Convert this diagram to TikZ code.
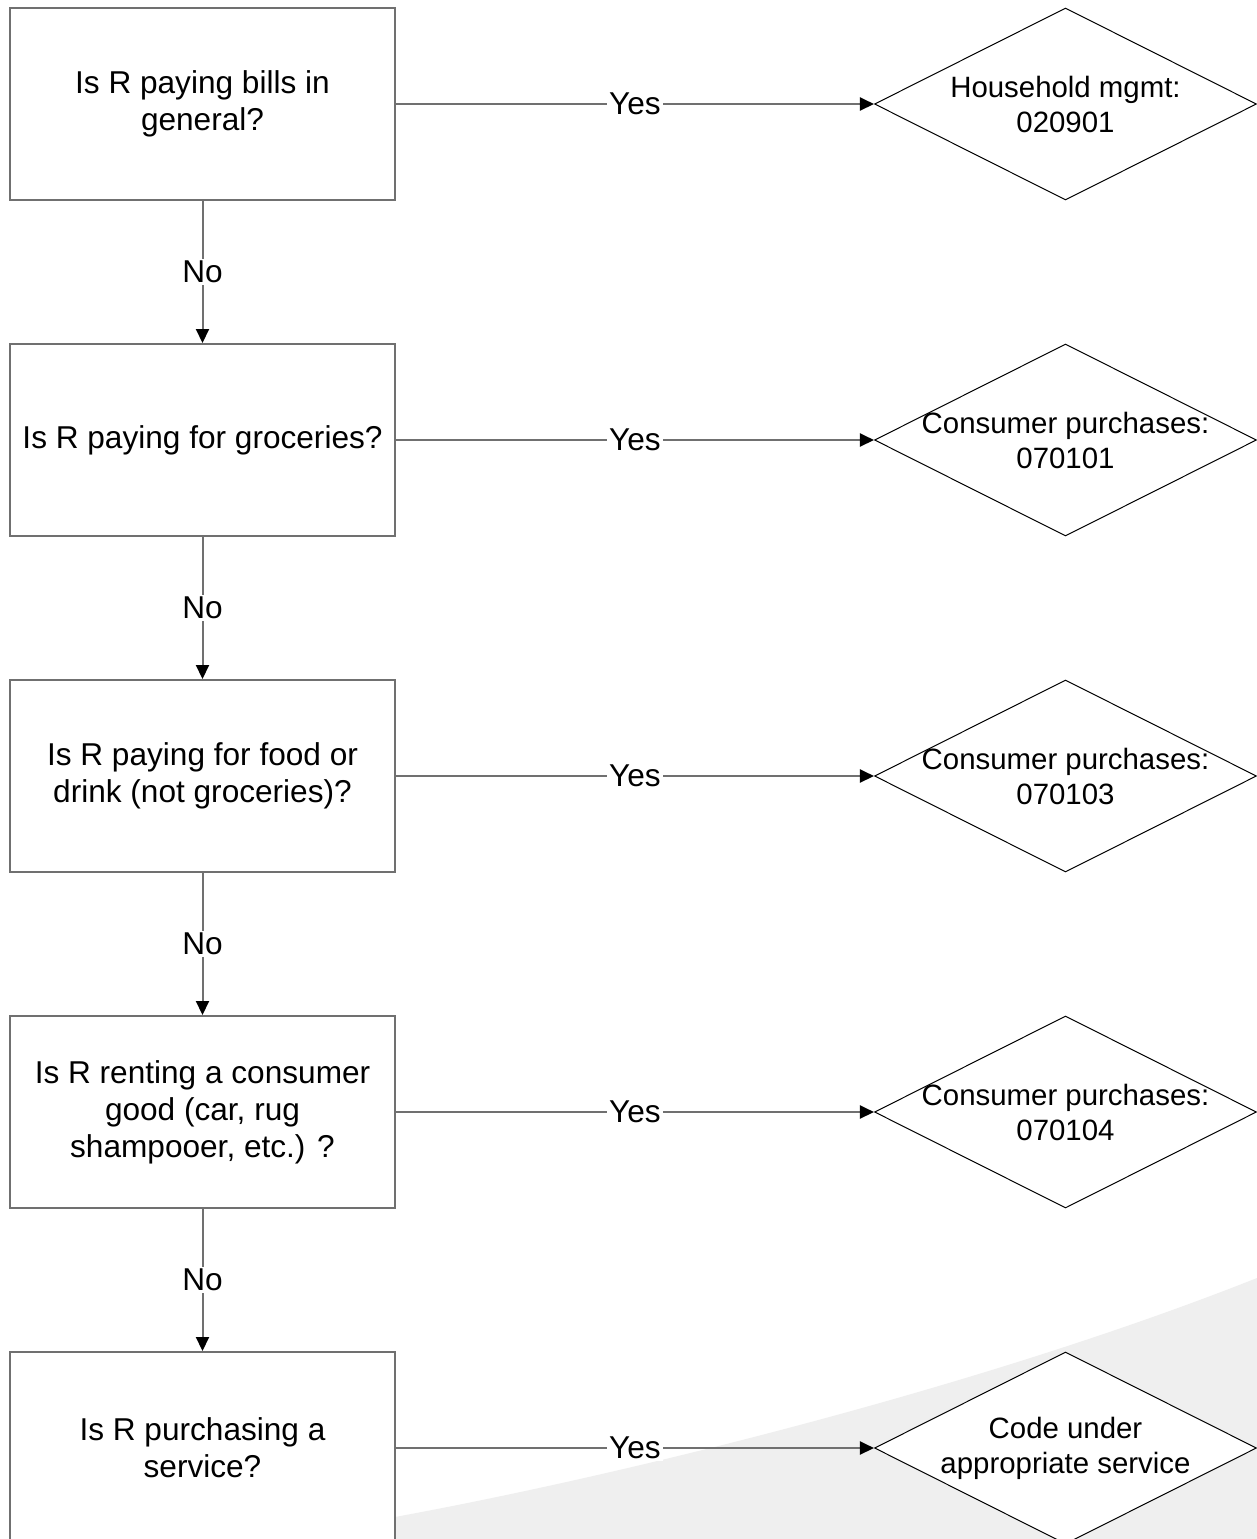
\documentclass[tikz,border=0pt]{standalone}
\usepackage{fontspec}
\setmainfont{Liberation Sans}
\usetikzlibrary{shapes.geometric, arrows.meta, positioning}

\definecolor{edgegray}{HTML}{707070}
\definecolor{swoosh}{HTML}{EFEFEF}

\tikzset{
  question/.style={draw=edgegray, line width=1pt, fill=white, minimum width=192.5pt,
    minimum height=96pt, align=center, inner sep=0pt},
  answer/.style={draw=black, line width=0.5pt, fill=white, diamond, minimum width=191pt,
    minimum height=96pt, inner sep=0pt},
  flow/.style={draw=edgegray, line width=1pt, -{Triangle[length=7pt,width=6.5pt,color=black]}},
  choice/.style={fill=white, inner sep=1pt},
  every label/.style={align=center, font=\fontsize{14.7}{17.5}\selectfont}
}

\begin{document}
\begin{tikzpicture}[x=0.5pt, y=-0.5pt, font=\fontsize{15.8}{18.5}\selectfont]
    % Page and background swoosh
    \useasboundingbox (0,0) rectangle (1257,1539);
    \clip (0,0) rectangle (1257,1539);
    \fill[white] (0,0) rectangle (1257,1539);
    \fill[swoosh] (395,1517) .. controls (650,1470) and (1000,1380) .. (1257,1278)
        -- (1257,1545) -- (395,1545) -- cycle;

    % Questions
    \node[question] (q1) at (202.5,104) {Is R paying bills in\\general?};
    \node[question, below=71pt of q1] (q2) {Is R paying for groceries?};
    \node[question, below=71pt of q2] (q3) {Is R paying for food or\\drink (not groceries)?};
    \node[question, below=71pt of q3] (q4) {Is R renting a consumer\\good (car, rug\\shampooer, etc.) ?};
    \node[question, below=71pt of q4] (q5) {Is R purchasing a\\service?};

    % Codes
    \node[answer, right=239pt of q1, label=center:{Household mgmt:\\020901}] (a1) {};
    \node[answer, right=239pt of q2, label=center:{Consumer purchases:\\070101}] (a2) {};
    \node[answer, right=239pt of q3, label=center:{Consumer purchases:\\070103}] (a3) {};
    \node[answer, right=239pt of q4, label=center:{Consumer purchases:\\070104}] (a4) {};
    \node[answer, right=239pt of q5, label=center:{Code under\\appropriate service}] (a5) {};

    % Yes / No branches
    \draw[flow] (q1) -- node[choice] {Yes} (a1);
    \draw[flow] (q2) -- node[choice] {Yes} (a2);
    \draw[flow] (q3) -- node[choice] {Yes} (a3);
    \draw[flow] (q4) -- node[choice] {Yes} (a4);
    \draw[flow] (q5) -- node[choice] {Yes} (a5);
    \draw[flow] (q1) -- node[choice] {No} (q2);
    \draw[flow] (q2) -- node[choice] {No} (q3);
    \draw[flow] (q3) -- node[choice] {No} (q4);
    \draw[flow] (q4) -- node[choice] {No} (q5);
\end{tikzpicture}
\end{document}
